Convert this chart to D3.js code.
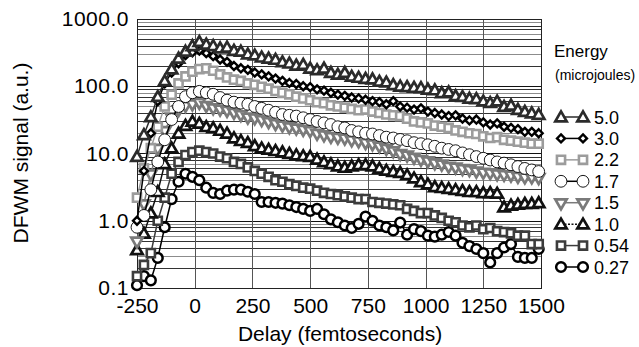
<!DOCTYPE html>
<html>
<head>
<meta charset="utf-8">
<script src="https://cdn.jsdelivr.net/npm/d3@7"></script>
<style>
  html, body { margin: 0; padding: 0; background: #fff; }
  svg { display: block; font-family: "Liberation Sans", Arial, sans-serif; }
</style>
</head>
<body>
<div id="chart"></div>
<script>
// delay axis (femtoseconds)
const delays = [-250, -220, -190, -160, -130, -100, -70, -40, -10, 20, 50, 80, 110, 140, 170, 200,
  230, 260, 290, 320, 350, 380, 410, 440, 470, 500, 530, 560, 590, 620, 650, 680, 710, 740, 770,
  800, 830, 860, 890, 920, 950, 980, 1010, 1040, 1070, 1100, 1130, 1160, 1190, 1220, 1250, 1280,
  1310, 1340, 1370, 1400, 1430, 1460, 1490];

// DFWM signal for each pulse energy (a.u.)
const e50 = [9, 19, 35, 70, 120, 180, 260, 330, 400, 460, 420, 400, 370, 380, 340, 330,
  300, 290, 270, 260, 250, 230, 220, 205, 210, 185, 175, 185, 160, 150, 160, 140, 135, 130, 128,
  118, 115, 105, 100, 98, 96, 95, 90, 88, 80, 82, 72, 70, 66, 65, 60, 57,
  60, 50, 52, 45, 42, 40, 38];
const e30 = [1.0, 5.5, 20, 60, 110, 160, 220, 290, 320, 340, 310, 280, 250, 230, 200, 185,
  175, 160, 150, 140, 130, 120, 112, 108, 100, 97, 90, 86, 80, 75, 72, 68, 66, 63, 60,
  58, 54, 60, 50, 48, 45, 47, 42, 40, 38, 36, 37, 33, 31, 32, 29, 27,
  28, 25, 24, 23, 21, 21, 20];
const e22 = [2.2, 6, 12, 25, 50, 75, 110, 140, 165, 180, 185, 170, 150, 135, 125, 120,
  110, 105, 98, 92, 85, 80, 76, 70, 66, 62, 58, 56, 52, 50, 48, 46, 44, 45, 42,
  40, 38, 37, 36, 33, 30, 29, 28, 26, 25, 24, 22, 21, 20, 19.5, 18, 17,
  17.5, 16, 15.5, 15, 14.5, 14, 14];
const e17 = [0.8, 1.2, 2.9, 7.5, 16, 32, 50, 70, 80, 84, 80, 76, 68, 62, 58, 56,
  54, 50, 47, 44, 41, 38, 37, 36, 34, 32, 30, 28.5, 27, 25, 24, 22, 21, 20, 19.5,
  18.5, 17.5, 17, 16.2, 15.5, 14.5, 14, 13.5, 12.8, 12, 11.5, 11, 10.2, 9.6, 9, 8.5, 8,
  7.5, 7.2, 6.8, 6.4, 6, 5.7, 5.4];
const e15 = [0.5, 1.8, 5, 12, 22, 35, 45, 52, 55, 58, 52, 48, 46, 44, 41, 38,
  35, 34, 32, 30, 28, 26.5, 25, 24, 23, 22, 20, 19, 18, 17.5, 17, 16, 15.5, 14.6, 14,
  13, 12, 11, 10, 9.5, 8.8, 8.2, 7.8, 7.3, 7, 6.5, 6.3, 6, 5.8, 5.5, 5.3, 5.2,
  5, 4.9, 4.8, 4.6, 4.5, 4.5, 4.4];
const e10 = [0.37, 0.65, 1.3, 2.7, 7, 12, 20, 26, 30, 28, 25, 24, 22, 20, 17, 15.5,
  14.5, 13, 12, 11.5, 11, 10.5, 10, 9.5, 9.2, 9, 8.2, 7.5, 7, 6.5, 6.2, 6.5, 6.8, 6.8, 6.5,
  6, 5.6, 5.4, 5.2, 4.8, 4.3, 3.8, 3.5, 3.2, 3.1, 3, 2.9, 2.8, 2.7, 2.7, 2.6, 2.6,
  2.55, 1.6, 1.7, 1.75, 1.8, 1.8, 1.85];
const e054 = [0.15, 0.22, 0.33, 1.0, 2.2, 5, 7.5, 9.5, 10.5, 11, 10.5, 10, 9, 8.5, 7.5, 7,
  6.2, 5.5, 5, 4.5, 4, 3.8, 3.5, 3.3, 3.1, 3, 2.8, 2.6, 2.5, 2.4, 2.3, 2.2, 2.1, 2.1, 1.9,
  1.85, 1.8, 1.75, 1.7, 1.5, 1.4, 1.3, 1.3, 1.2, 1.1, 1, 0.95, 0.85, 0.8, 0.85, 0.75, 0.78,
  0.7, 0.68, 0.65, 0.6, 0.6, 0.45, 0.45];
const e027 = [0.11, 0.15, 0.13, 0.28, 0.8, 2.1, 3.8, 5, 4.5, 4.0, 3.1, 2.6, 2.5, 2.8, 2.9, 2.9,
  2.7, 2.5, 1.9, 1.9, 1.85, 1.8, 1.7, 1.6, 1.5, 1.4, 1.5, 1.25, 1.05, 0.95, 0.85, 0.78, 0.9, 1.15, 1.0,
  0.85, 0.8, 0.72, 0.94, 0.62, 0.75, 0.7, 0.6, 0.58, 0.62, 0.68, 0.6, 0.47, 0.42, 0.38, 0.33, 0.24,
  0.33, 0.4, 0.45, 0.29, 0.28, 0.28, 0.38];

const energyLabels = ['5.0', '3.0', '2.2', '1.7', '1.5', '1.0', '0.54', '0.27'];
const xTicks = [-250, 0, 250, 500, 750, 1000, 1250, 1500];
const yTicks = [0.1, 1, 10, 100, 1000];
const yTickLabels = ['0.1', '1.0', '10.0', '100.0', '1000.0'];

const series = [
  { label: '5.0', values: e50, shape: 'tri', color: '#2b2b2b', sw: 2.7, size: 56, dash: null },
  { label: '3.0', values: e30, shape: 'dia', color: '#000', sw: 2.4, size: 40, dash: null },
  { label: '2.2', values: e22, shape: 'sq', color: '#9c9c9c', sw: 2.6, size: 66, dash: null },
  { label: '1.7', values: e17, shape: 'circ', color: '#000', sw: 0.9, size: 110, dash: null },
  { label: '1.5', values: e15, shape: 'tridown', color: '#7a7a7a', sw: 2.7, size: 56, dash: null },
  { label: '1.0', values: e10, shape: 'tri', color: '#111', sw: 2.7, size: 56, dash: '2,1.5' },
  { label: '0.54', values: e054, shape: 'sq', color: '#3c3c3c', sw: 2.6, size: 66, dash: null },
  { label: '0.27', values: e027, shape: 'circ', color: '#000', sw: 2.5, size: 74, dash: null }
];

const W = 639, H = 347;
const plot = { left: 137, right: 541, top: 19, bottom: 288 };

const svg = d3.select('#chart').append('svg')
  .attr('width', W).attr('height', H);

const x = d3.scaleLinear().domain([-250, 1500]).range([plot.left, plot.right]);
const y = d3.scaleLog().domain([0.1, 1000]).range([plot.bottom, plot.top]);

// horizontal log grid (minor + major)
const minor = [];
[0.1, 1, 10, 100].forEach(dec => {
  for (let k = 2; k <= 9; k++) minor.push(dec * k);
});
svg.append('g').selectAll('line')
  .data(minor).enter().append('line')
  .attr('x1', plot.left).attr('x2', plot.right)
  .attr('y1', d => Math.round(y(d)) + 0.5).attr('y2', d => Math.round(y(d)) + 0.5)
  .attr('stroke', (d, i) => (i % 3 === 1 ? '#8c8c8c' : '#333'))
  .attr('stroke-width', 1);
svg.append('g').selectAll('line')
  .data(yTicks).enter().append('line')
  .attr('x1', plot.left).attr('x2', plot.right)
  .attr('y1', d => Math.round(y(d)) + 0.5).attr('y2', d => Math.round(y(d)) + 0.5)
  .attr('stroke', '#111').attr('stroke-width', 1);

// vertical grid
svg.append('g').selectAll('line')
  .data(xTicks).enter().append('line')
  .attr('x1', d => Math.round(x(d)) + 0.5).attr('x2', d => Math.round(x(d)) + 0.5)
  .attr('y1', plot.top).attr('y2', plot.bottom)
  .attr('stroke', '#555').attr('stroke-width', 1);

// frame
svg.append('rect')
  .attr('x', plot.left + 0.5).attr('y', plot.top + 0.5)
  .attr('width', plot.right - plot.left).attr('height', plot.bottom - plot.top)
  .attr('fill', 'none').attr('stroke', '#222').attr('stroke-width', 1);

// axes labels
const yAxis = d3.axisLeft(y).tickValues(yTicks)
  .tickFormat((d, i) => yTickLabels[i]).tickSize(0).tickPadding(8);
svg.append('g').attr('transform', `translate(${plot.left},0)`)
  .call(yAxis)
  .call(g => g.select('.domain').remove())
  .selectAll('text')
  .attr('font-size', '21px').attr('fill', '#000').attr('letter-spacing', '0.5px')
  .style('font-family', '"Liberation Sans", Arial, sans-serif');

const xAxis = d3.axisBottom(x).tickValues(xTicks).tickFormat(d => String(d))
  .tickSize(0).tickPadding(10);
svg.append('g').attr('transform', `translate(0,${plot.bottom})`)
  .call(xAxis)
  .call(g => g.select('.domain').remove())
  .selectAll('text')
  .attr('font-size', '21px').attr('fill', '#000')
  .style('font-family', '"Liberation Sans", Arial, sans-serif');

svg.append('text')
  .attr('x', 340).attr('y', 341)
  .attr('text-anchor', 'middle').attr('font-size', '21px')
  .text('Delay (femtoseconds)');

svg.append('text')
  .attr('transform', 'translate(28,153) rotate(-90)')
  .attr('text-anchor', 'middle').attr('font-size', '21px')
  .text('DFWM signal (a.u.)');

// symbols
function symPath(shape, size) {
  if (shape === 'tri' || shape === 'tridown') return d3.symbol(d3.symbolTriangle, size)();
  if (shape === 'dia') return d3.symbol(d3.symbolDiamond2, size)();
  if (shape === 'sq') return d3.symbol(d3.symbolSquare, size)();
  return d3.symbol(d3.symbolCircle, size)();
}
function symTransform(s, px, py) {
  return s.shape === 'tridown' ? `translate(${px},${py}) rotate(180)` : `translate(${px},${py + (s.shape === 'tri' ? 1 : 0)})`;
}

const line = d3.line()
  .x(d => x(d[0]))
  .y(d => y(d[1]));

// draw lowest energy first so higher energies sit on top
series.slice().reverse().forEach(s => {
  const pts = delays.map((d, i) => [d, s.values[i]]);
  const g = svg.append('g');
  g.append('path')
    .datum(pts)
    .attr('d', line)
    .attr('fill', 'none')
    .attr('stroke', s.color)
    .attr('stroke-width', 1.5);
  g.selectAll('path.pt')
    .data(pts).enter().append('path')
    .attr('class', 'pt')
    .attr('d', symPath(s.shape, s.size))
    .attr('transform', d => symTransform(s, x(d[0]), y(d[1])))
    .attr('fill', '#fff')
    .attr('stroke', s.color)
    .attr('stroke-width', s.sw);
});

// legend
const leg = svg.append('g');
leg.append('text').attr('x', 554).attr('y', 57).attr('font-size', '17px').text('Energy');
leg.append('text').attr('x', 555).attr('y', 80).attr('font-size', '14px').text('(microjoules)');

const legY = d3.scalePoint().domain(energyLabels).range([117, 267]);
series.forEach(s => {
  const cy = legY(s.label);
  leg.append('line')
    .attr('x1', 561).attr('x2', 583).attr('y1', cy).attr('y2', cy)
    .attr('stroke', s.color).attr('stroke-width', 1.5)
    .attr('stroke-dasharray', s.dash);
  [561, 583].forEach(px => {
    leg.append('path')
      .attr('d', symPath(s.shape, s.size))
      .attr('transform', symTransform(s, px, cy))
      .attr('fill', '#fff').attr('stroke', s.color).attr('stroke-width', s.sw);
  });
  leg.append('text')
    .attr('x', 594).attr('y', cy + 6.5)
    .attr('font-size', '18px').text(s.label);
});
</script>
</body>
</html>
